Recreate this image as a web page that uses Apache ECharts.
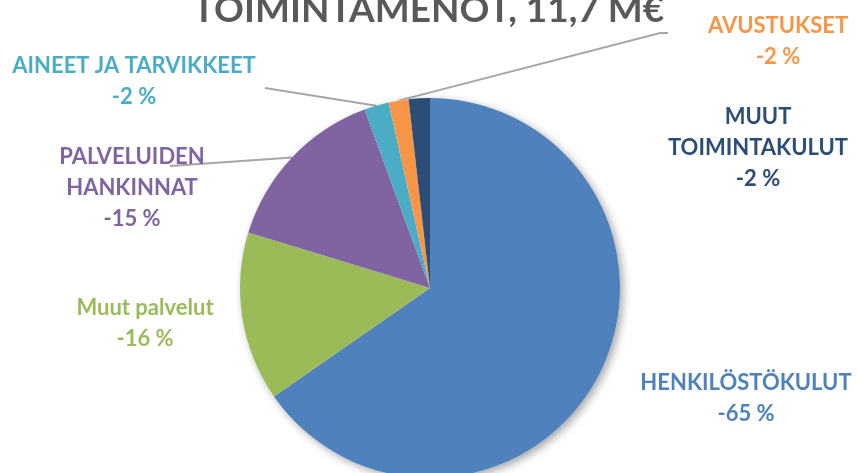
<!DOCTYPE html>
<html>
<head>
<meta charset="utf-8">
<script src="https://cdn.jsdelivr.net/npm/echarts@6/dist/echarts.min.js"></script>
<style>
  html, body { margin: 0; background: #fff; }
  #chart { width: 857px; height: 473px; }
</style>
</head>
<body>
<div id="chart"></div>
<script>
// slice order: clockwise from 12 o'clock
const categories = ['HENKILÖSTÖKULUT', 'Muut palvelut', 'PALVELUIDEN\nHANKINNAT', 'AINEET JA TARVIKKEET', 'AVUSTUKSET', 'MUUT\nTOIMINTAKULUT']
const shares = [65.4, 14.4, 14.7, 2.1, 1.7, 1.8]
const shareLabels = ['-65 %', '-16 %', '-15 %', '-2 %', '-2 %', '-2 %']
const sliceColors = ['#4F81BD', '#9BBB59', '#8064A2', '#4BACC6', '#F79646', '#2C4D75']
const labelColors = ['#4F81BD', '#9BBB59', '#8064A2', '#4BACC6', '#F79646', '#2C4D75']

// where each label box is centred, and where its leader line ends (null = no line)
const labelPos = [[746, 398], [145, 323], [132, 188], [134, 81], [778, 41], [758, 148]]
const lineEnds = [null, null, [[170, 166]], [[265, 88]], [[660, 33], [668, 33]], null]

const total = shares.reduce((a, b) => a + b, 0)

const option = {
  backgroundColor: '#fff',
  animation: false,
  title: {
    text: 'TOIMINTAMENOT, 11,7 M€',
    left: 'center',
    top: -9,
    padding: [1, 5, 5, 5],
    textStyle: {
      color: '#595959',
      fontFamily: 'Lato',
      fontWeight: 'bold',
      fontSize: 37,
    },
  },
  series: [
    {
      // shadow under the whole pie
      type: 'pie',
      silent: true,
      center: [430, 288],
      radius: 190,
      label: { show: false },
      labelLine: { show: false },
      itemStyle: {
        color: '#fff',
        shadowBlur: 8,
        shadowOffsetX: 3,
        shadowOffsetY: 3,
        shadowColor: 'rgba(0,0,0,0.35)',
      },
      data: [{ value: total, name: 'all' }],
    },
    {
      type: 'pie',
      center: [430, 288],
      radius: 190,
      startAngle: 90,
      clockwise: true,
      avoidLabelOverlap: false,
      emphasis: { disabled: true },
      itemStyle: { borderWidth: 0 },
      label: {
        show: true,
        position: 'outside',
        fontFamily: 'Lato',
        fontWeight: 'bold',
        fontSize: 22,
        lineHeight: 31,
        align: 'center',
        formatter: p => p.name + '\n' + shareLabels[p.dataIndex],
      },
      labelLine: {
        lineStyle: { color: '#A6A6A6', width: 2 },
      },
      labelLayout: (params) => {
        const i = params.dataIndex
        const out = { x: labelPos[i][0], y: labelPos[i][1], align: 'center', verticalAlign: 'middle' }
        if (lineEnds[i] && params.labelLinePoints) {
          out.labelLinePoints = [params.labelLinePoints[0]].concat(lineEnds[i])
        }
        return out
      },
      data: categories.map((name, i) => ({
        name,
        value: shares[i],
        itemStyle: { color: sliceColors[i] },
        label: { color: labelColors[i] },
        labelLine: { show: !!lineEnds[i] },
      })),
    },
  ],
}

const myChart = echarts.init(document.getElementById('chart'))
myChart.setOption(option)
</script>
</body>
</html>
